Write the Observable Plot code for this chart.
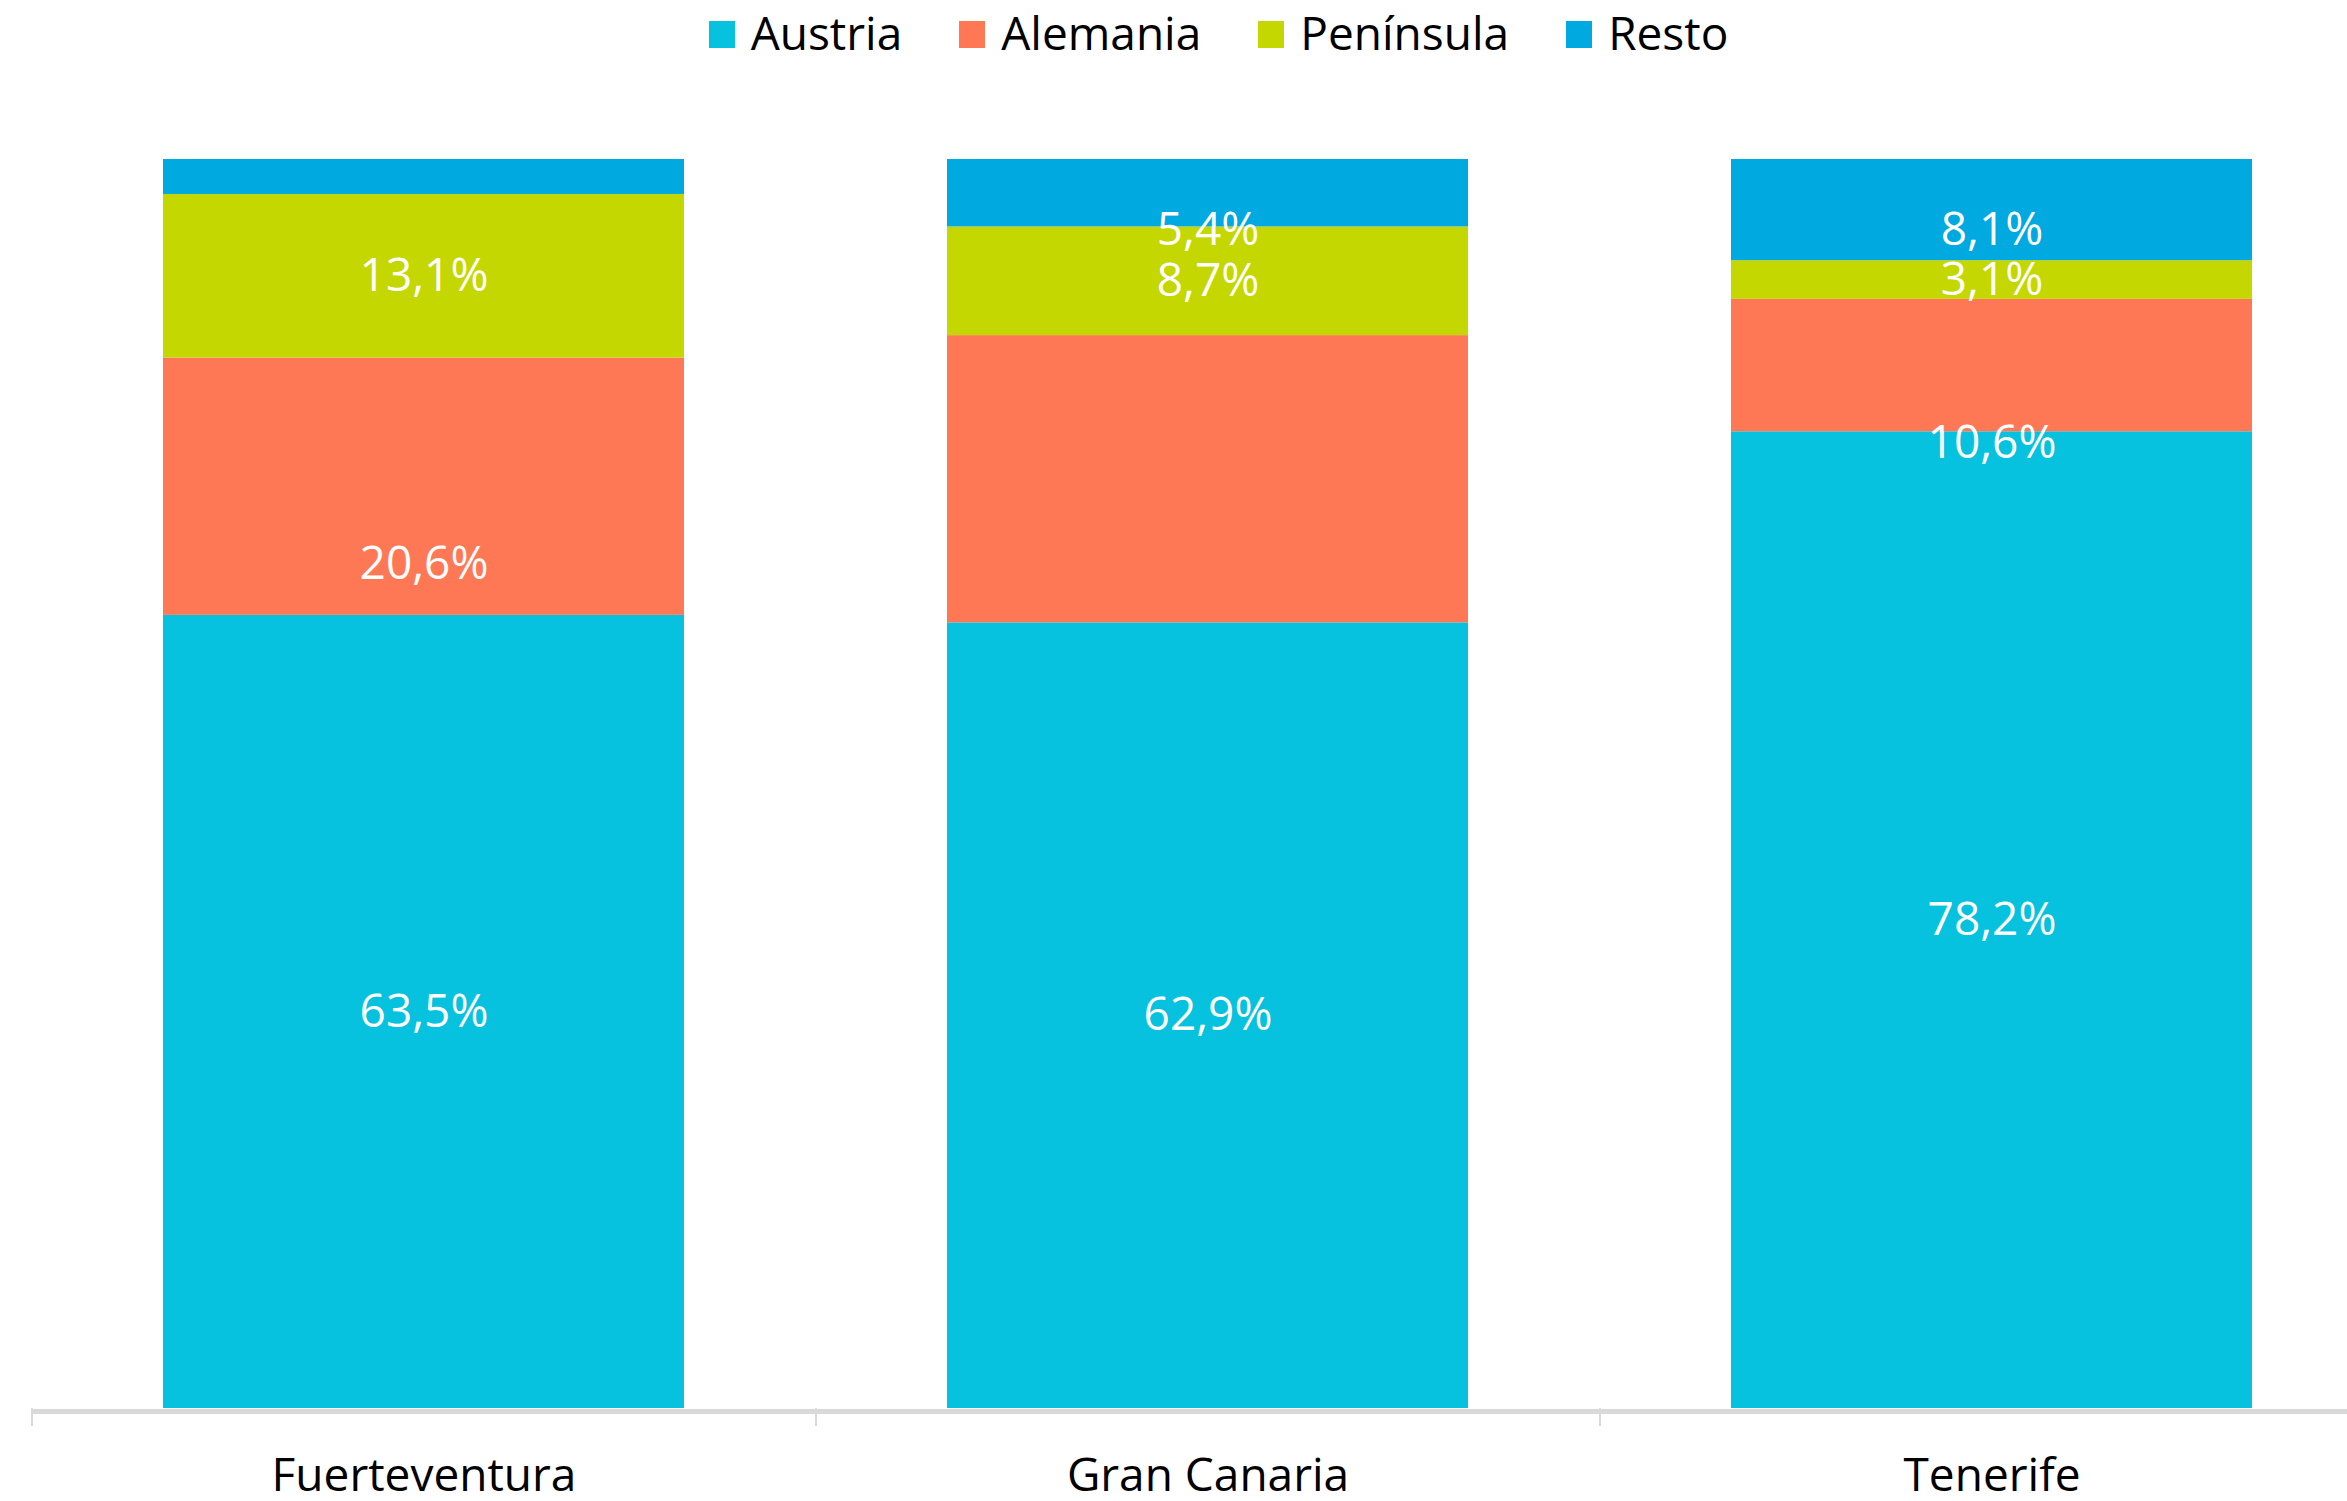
<!DOCTYPE html>
<html>
<head>
<meta charset="utf-8">
<script src="https://cdn.jsdelivr.net/npm/d3@7"></script>
<script src="https://cdn.jsdelivr.net/npm/@observablehq/plot@0.6"></script>
<style>
  html, body { margin: 0; padding: 0; background: #fff; }
  body { width: 2347px; height: 1501px; overflow: hidden; font-family: "Open Sans", sans-serif; }
  #legend { height: 80px; display: flex; justify-content: center; align-items: flex-start; padding-left: 90px; box-sizing: border-box; }
  .item { display: flex; align-items: center; height: 63px; line-height: 63px; font-size: 46px; color: #000; margin-right: 57px; padding-top: 1px; }
  .item:last-child { margin-right: 0; }
  .sw { width: 26px; height: 27px; margin-right: 16px; position: relative; top: 2px; }
</style>
</head>
<body>
<div id="legend"></div>
<div id="chart"></div>
<script>
// ---- data ----
const islands = ["Fuerteventura", "Gran Canaria", "Tenerife"];
const series = ["Austria", "Alemania", "Península", "Resto"];
const austria = [63.5, 62.9, 78.2];
const alemania = [20.6, 23.0, 10.6];
const peninsula = [13.1, 8.7, 3.1];
const resto = [2.8, 5.4, 8.1];
// labels not shown in the original
const hiddenLabels = [["Fuerteventura", "Resto"], ["Gran Canaria", "Alemania"]];
const colors = ["#06C2DE", "#FF7855", "#C4D700", "#00A9DF"];

// ---- build table ----
const valuesBySeries = [austria, alemania, peninsula, resto];
const data = [];
islands.forEach((isl, i) => {
  series.forEach((s, j) => data.push({island: isl, series: s, value: valuesBySeries[j][i]}));
});
const isHidden = d => hiddenLabels.some(([a, b]) => a === d.island && b === d.series);
const fmt = v => d3.format(".1f")(v).replace(".", ",") + "%";

// ---- legend ----
const legend = document.getElementById("legend");
series.forEach((s, j) => {
  const it = document.createElement("div");
  it.className = "item";
  const sw = document.createElement("span");
  sw.className = "sw";
  sw.style.background = colors[j];
  const tx = document.createElement("span");
  tx.textContent = s;
  it.appendChild(sw); it.appendChild(tx);
  legend.appendChild(it);
});

// ---- layout ----
const W = 2347, H = 1421, mTop = 79, mBottom = 93, mLeft = 31;
const pInner = 0.336, pOuter = 0.168;
const xRange = [mLeft, 2383];
const step = (xRange[1] - xRange[0]) / (islands.length - pInner + 2 * pOuter);
const pxPerUnit = (H - mTop - mBottom) / 100;
const tickLenPx = 18;

const labelText = (set) => d => (set.includes(d.series) && !isHidden(d)) ? fmt(d.value) : null;
const labelOpts = {x: "island", y: "value", z: "series", fill: "white", fontSize: 46, fontFamily: "Open Sans"};

const plot = Plot.plot({
  width: W,
  height: H,
  marginTop: mTop,
  marginBottom: mBottom,
  marginLeft: mLeft,
  marginRight: 0,
  style: {fontFamily: "Open Sans", background: "white"},
  x: {domain: islands, range: xRange, paddingInner: pInner, paddingOuter: pOuter, axis: null},
  y: {domain: [0, 100], axis: null},
  color: {domain: series, range: colors},
  marks: [
    Plot.barY(data, {x: "island", y: "value", fill: "series", z: "series"}),
    Plot.ruleY([0], {stroke: "#d9d9d9", strokeWidth: 5, dy: 3}),
    Plot.ruleX(islands, {x: d => d, dx: -step / 2, y1: 0, y2: -tickLenPx / pxPerUnit, stroke: "#d9d9d9", strokeWidth: 2}),
    Plot.text(data, Plot.stackY({...labelOpts, text: labelText(["Austria", "Península"])})),
    Plot.text(data, Plot.stackY({...labelOpts, text: labelText(["Alemania"]), dy: 78})),
    Plot.text(data, Plot.stackY2({...labelOpts, text: labelText(["Resto"]), dy: 71})),
    Plot.text(islands, {x: d => d, y: 0, text: d => d, lineAnchor: "top", dy: 50, fontSize: 46, fill: "#000", fontFamily: "Open Sans"})
  ]
});
document.getElementById("chart").appendChild(plot);
</script>
</body>
</html>
